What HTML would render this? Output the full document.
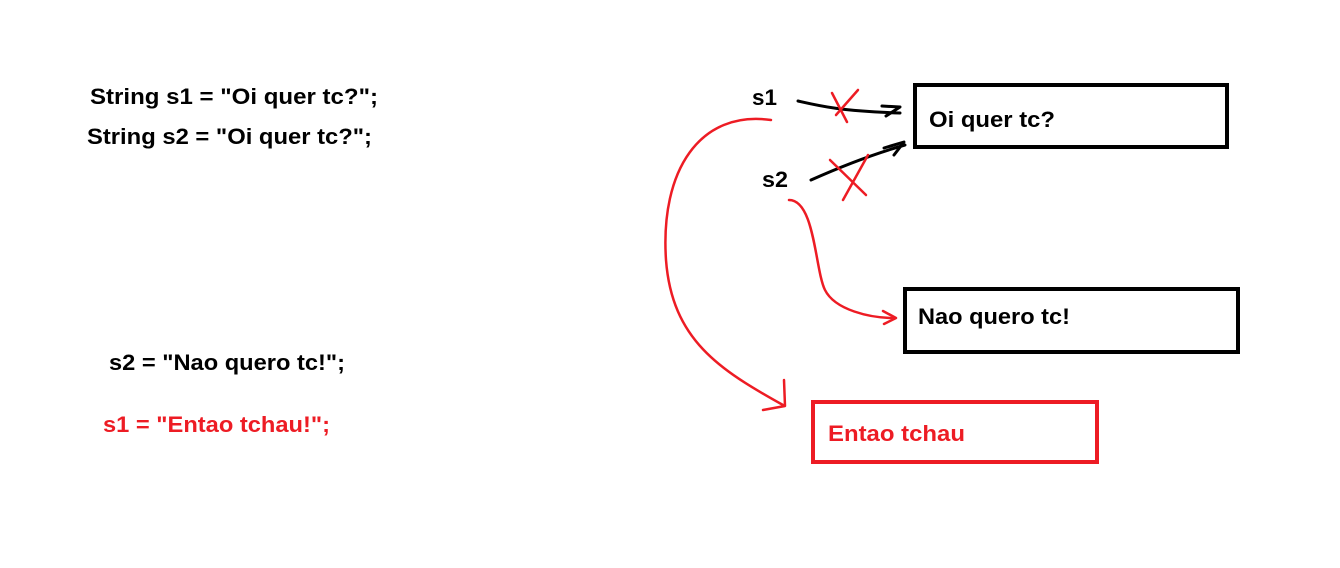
<!DOCTYPE html>
<html><head><style>
html,body{margin:0;padding:0;background:#fff;}
svg{display:block;}
text{font-family:"Liberation Sans",Arial,sans-serif;font-weight:bold;font-size:22px;}
</style></head><body>
<svg width="1340" height="568" viewBox="0 0 1340 568" xmlns="http://www.w3.org/2000/svg">
<rect width="1340" height="568" fill="#fff"/>
<text x="90" y="104" fill="#000" textLength="288" lengthAdjust="spacingAndGlyphs">String s1 = "Oi quer tc?";</text>
<text x="87" y="144" fill="#000" textLength="285" lengthAdjust="spacingAndGlyphs">String s2 = "Oi quer tc?";</text>
<text x="109" y="370" fill="#000" textLength="236" lengthAdjust="spacingAndGlyphs">s2 = "Nao quero tc!";</text>
<text x="103" y="432" fill="#ed1c24" textLength="227" lengthAdjust="spacingAndGlyphs">s1 = "Entao tchau!";</text>

<text x="752" y="105" fill="#000" textLength="25" lengthAdjust="spacingAndGlyphs">s1</text>
<text x="762" y="187" fill="#000" textLength="26" lengthAdjust="spacingAndGlyphs">s2</text>

<rect x="915" y="85" width="312" height="62" fill="none" stroke="#000" stroke-width="4"/>
<text x="929" y="127" fill="#000" textLength="126" lengthAdjust="spacingAndGlyphs">Oi quer tc?</text>
<rect x="905" y="289" width="333" height="63" fill="none" stroke="#000" stroke-width="4"/>
<text x="918" y="324" fill="#000" textLength="152" lengthAdjust="spacingAndGlyphs">Nao quero tc!</text>
<rect x="813" y="402" width="284" height="60" fill="none" stroke="#ed1c24" stroke-width="4"/>
<text x="828" y="441" fill="#ed1c24" textLength="137" lengthAdjust="spacingAndGlyphs">Entao tchau</text>

<g fill="none" stroke="#000" stroke-width="3" stroke-linecap="round" stroke-linejoin="round">
<path d="M798 101 C820 106 840 111 900 113"/>
<path d="M882 106 L900 107 L886 116"/>
<path d="M811 180 C840 167 870 155 905 145"/>
<path d="M884 148 L904 142 L894 155"/>
</g>
<g fill="none" stroke="#ed1c24" stroke-width="2.5" stroke-linecap="round" stroke-linejoin="round">
<path d="M832 93 L847 122 M858 90 L836 115"/>
<path d="M830 160 L866 195 M868 155 L843 200"/>
<path d="M771 120 C700 110 660 170 666 260 C672 340 720 370 783 405"/>
<path d="M784 380 L785 406 L763 410"/>
<path d="M789 200 C815 200 815 270 825 290 C835 310 870 318 894 318"/>
<path d="M883 311 L896 318 L884 324"/>
</g>
</svg>
</body></html>
